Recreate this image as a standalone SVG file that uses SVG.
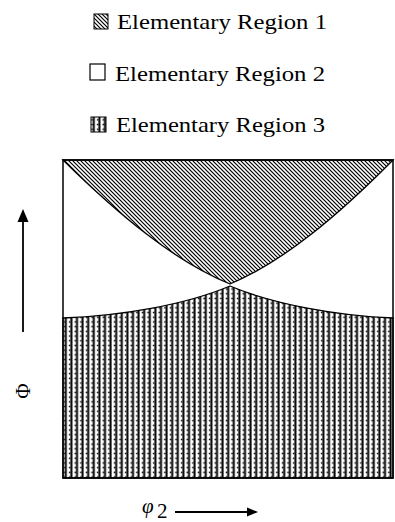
<svg xmlns="http://www.w3.org/2000/svg" width="395" height="522" viewBox="0 0 395 522">
<style>
.lbl{font-family:"Liberation Serif","DejaVu Serif",serif;font-size:21px;fill:#000}
.edge{stroke:#000;stroke-width:1.3}
.r1{fill:url(#hatch)}
.r3{fill:url(#bars)}
.frame{fill:none;stroke:#000;stroke-width:1.5}
.ax{stroke:#000;stroke-width:1.8;fill:none}
</style>
<defs>
<pattern id="hatch" width="4" height="4" patternUnits="userSpaceOnUse">
<rect width="4" height="4" fill="#fff"/>
<path d="M-1,-1 L5,5 M-1,3 L1,5 M3,-1 L5,1" stroke="#000" stroke-width="1.2"/>
</pattern>
<pattern id="bars" width="5.6" height="4.7" patternUnits="userSpaceOnUse">
<rect width="5.6" height="4.7" fill="#fff"/>
<rect x="3.2" y="0" width="2" height="4.7" fill="#000"/>
<rect x="1.7" y="1.6" width="1.5" height="1.5" fill="#000"/>
</pattern>
</defs>
<rect width="395" height="522" fill="#fff"/>

<g id="legend1">
<rect class="r1" x="94" y="14" width="14" height="15" stroke="#000" stroke-width="1"/>
<text class="lbl" x="117" y="29" textLength="210" lengthAdjust="spacingAndGlyphs">Elementary Region 1</text>
</g>
<g id="legend2">
<rect x="90" y="64" width="15" height="16" fill="#fff" stroke="#000" stroke-width="1.2"/>
<text class="lbl" x="115" y="81" textLength="210" lengthAdjust="spacingAndGlyphs">Elementary Region 2</text>
</g>
<g id="legend3">
<rect class="r3" x="91" y="117" width="15" height="15" stroke="#000" stroke-width="1"/>
<text class="lbl" x="116" y="132" textLength="209" lengthAdjust="spacingAndGlyphs">Elementary Region 3</text>
</g>

<g id="plot">
<path id="region1" class="edge r1" d="M63,160 C118.7,214.9 174.3,261.2 230,284 C284.3,261.2 338.7,214.9 393,160 Z"/>
<path id="region3" class="edge r3" d="M63,318 C120,316 185,305 230,286 C275,305 340,316 393,318 L393,478 L63,478 Z"/>
<rect class="frame" x="63" y="160" width="330" height="318"/>
</g>

<g id="axes">
<line class="ax" x1="23" y1="332" x2="23" y2="220"/>
<polygon points="23,209 17.5,222 28.5,222" fill="#000"/>
<text class="lbl" x="0" y="0" transform="translate(30,391) rotate(-90)" text-anchor="middle" font-size="20">Φ</text>
<line class="ax" x1="175" y1="512" x2="250" y2="512"/>
<polygon points="258,512 247,507.5 247,516.5" fill="#000"/>
<text class="lbl" x="142" y="513" font-style="italic" font-size="21">φ</text>
<text class="lbl" x="157" y="518" font-size="12">2</text>
</g>
</svg>
